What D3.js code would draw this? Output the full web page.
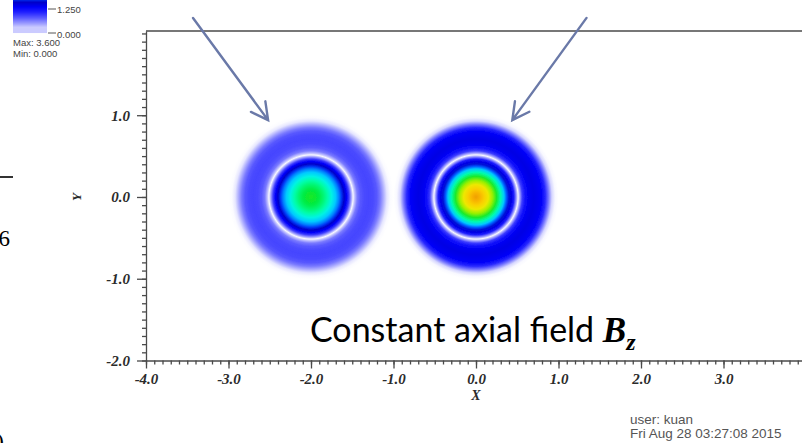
<!DOCTYPE html>
<html>
<head>
<meta charset="utf-8">
<script src="https://cdn.jsdelivr.net/npm/d3@7"></script>
<style>
  html, body { margin: 0; padding: 0; background: #fff; overflow: hidden; }
  svg { display: block; }
</style>
</head>
<body>
<svg id="chart" width="802" height="443"></svg>
<script>
// Radial sample positions (distance from each beam axis, same units as X/Y)
const radii = [0, 0.05, 0.10, 0.15, 0.20, 0.25, 0.30, 0.34, 0.37, 0.40, 0.43, 0.46, 0.49,
               0.51, 0.53, 0.56, 0.60, 0.65, 0.70, 0.75, 0.80, 0.84, 0.88, 0.92, 0.96, 1.00];
// Field magnitude along the radius for the beam centred at X = -2
const leftBeam  = [2.75, 2.72, 2.65, 2.55, 2.42, 2.27, 2.10, 1.92, 1.76, 1.60, 1.35, 0.95, 0.45,
                   0.05, 0.35, 0.65, 0.80, 0.88, 0.90, 0.88, 0.80, 0.65, 0.42, 0.17, 0.03, 0.00];
// Field magnitude along the radius for the beam centred at X = 0
const rightBeam = [3.60, 3.50, 3.35, 3.20, 3.00, 2.75, 2.40, 2.10, 1.85, 1.65, 1.45, 1.10, 0.50,
                   0.05, 0.45, 0.95, 1.25, 1.40, 1.45, 1.40, 1.30, 1.05, 0.65, 0.25, 0.05, 0.00];
const beamCentersX = [-2.0, 0.0];
const beamCenterY = 0.0;

// Axis ticks
const xMajorTicks = [-4, -3, -2, -1, 0, 1, 2, 3];
const yMajorTicks = [-2, -1, 0, 1];
const minorStep = 0.1;

// Pseudocolor table (value -> colour)
const colorValues = [0.0, 0.2, 0.5, 0.8, 1.1, 1.35, 1.6, 1.8, 2.0, 2.2, 2.45, 2.7, 2.95, 3.15, 3.4, 3.6];
const colorTable  = ["#ffffff", "#e2e2ff", "#9c9cff", "#5858ff", "#1e1eff", "#0000f8", "#0000c8",
                     "#0044ff", "#00a4ff", "#00eeff", "#00ff9c", "#00e834", "#80f000", "#e8f000",
                     "#ffc800", "#f0a000"];
const legendTicks = [0.0, 1.25];
const dataMax = 3.6, dataMin = 0.0;

// Annotation arrows (data coordinates)
const arrows = [
  { from: [-3.43, 2.19], to: [-2.52, 0.94] },
  { from: [ 1.34, 2.19], to: [ 0.44, 0.94] }
];

const svg = d3.select("#chart");
const W = 802, H = 443;

const x = d3.scaleLinear().domain([-4, 4]).range([146, 806]);
const y = d3.scaleLinear().domain([-2, 2.03]).range([360.5, 31]);
const color = d3.scaleLinear().domain(colorValues).range(colorTable)
  .interpolate(d3.interpolateRgb).clamp(true);

const defs = svg.append("defs");
defs.append("filter").attr("id", "soft")
  .append("feGaussianBlur").attr("stdDeviation", 0.7);

// ---- Pseudocolor field: each beam is a radial profile ----
const rMax = d3.max(radii);
const beams = [leftBeam, rightBeam];
const fieldG = svg.append("g").attr("filter", "url(#soft)");
beams.forEach((vals, i) => {
  const cx = x(beamCentersX[i]), cy = y(beamCenterY);
  const rPx = x(beamCentersX[i] + rMax) - cx;
  const grad = defs.append("radialGradient")
    .attr("id", "beam" + i)
    .attr("gradientUnits", "userSpaceOnUse")
    .attr("cx", cx).attr("cy", cy).attr("r", rPx)
    .attr("fx", cx).attr("fy", cy);
  grad.selectAll("stop").data(radii).join("stop")
    .attr("offset", d => d / rMax)
    .attr("stop-color", (d, k) => color(vals[k]));
  fieldG.append("circle")
    .attr("cx", cx).attr("cy", cy).attr("r", rPx)
    .attr("fill", "url(#beam" + i + ")");
});

// ---- Axes ----
const axisColor = "#4a4a4a";
const labelFont = "'Liberation Serif', 'DejaVu Serif', serif";
const fmt = d => d.toFixed(1);
const xMinor = d3.range(-40, 41).map(i => i * minorStep);
const yMinor = d3.range(-20, 21).map(i => i * minorStep);

function styleAxis(g) {
  g.selectAll("path, line").attr("stroke", axisColor).attr("stroke-width", 1.3);
  g.selectAll("text").attr("fill", "#2b2b2b")
    .style("font-family", labelFont).style("font-weight", "bold")
    .style("font-style", "italic").style("font-size", "15px");
}

const gx = svg.append("g").attr("transform", `translate(0,${y(-2)})`);
gx.call(d3.axisBottom(x).tickValues(xMinor).tickSize(4).tickSizeOuter(0).tickFormat(""));
gx.append("g").call(d3.axisBottom(x).tickValues(xMajorTicks).tickSize(8).tickSizeOuter(0)
  .tickPadding(6).tickFormat(fmt)).select(".domain").remove();
styleAxis(gx);
gx.selectAll("text").attr("dy", "0.6em");

const gy = svg.append("g").attr("transform", `translate(${x(-4)},0)`);
gy.call(d3.axisLeft(y).tickValues(yMinor).tickSize(4).tickSizeOuter(0).tickFormat(""));
gy.append("g").call(d3.axisLeft(y).tickValues(yMajorTicks).tickSize(9).tickSizeOuter(0)
  .tickPadding(7).tickFormat(fmt)).select(".domain").remove();
styleAxis(gy);

// frame top edge
svg.append("line")
  .attr("x1", x(-4)).attr("x2", W).attr("y1", y(2.03)).attr("y2", y(2.03))
  .attr("stroke", axisColor).attr("stroke-width", 1.5);

// axis titles
svg.append("text").attr("x", x(0)).attr("y", 400).attr("text-anchor", "middle")
  .attr("fill", "#2b2b2b").style("font-family", labelFont).style("font-weight", "bold")
  .style("font-style", "italic").style("font-size", "14px").text("X");
svg.append("text").attr("transform", `translate(81,${y(0)}) rotate(-90)`)
  .attr("text-anchor", "middle")
  .attr("fill", "#2b2b2b").style("font-family", labelFont).style("font-weight", "bold")
  .style("font-style", "italic").style("font-size", "13px").text("Y");

// ---- Legend colour bar ----
const legendFont = "'Liberation Sans', Arial, sans-serif";
const legendY = d3.scaleLinear().domain([0, 1.25]).range([33, 9]);
const legendG = svg.append("g");
legendG.selectAll("rect").data(d3.range(0, 33)).join("rect")
  .attr("x", 13).attr("width", 34).attr("y", d => d).attr("height", 1.05)
  .attr("fill", d => color(Math.max(0.3, legendY.invert(d + 0.5))));
legendG.selectAll("line.tk").data(legendTicks).join("line").attr("class", "tk")
  .attr("x1", 48).attr("x2", 56).attr("y1", d => legendY(d)).attr("y2", d => legendY(d))
  .attr("stroke", "#555").attr("stroke-width", 1);
legendG.selectAll("text.tk").data(legendTicks).join("text").attr("class", "tk")
  .attr("x", 57).attr("y", (d, i) => legendY(d) + (i === 0 ? 5 : 3.5))
  .attr("fill", "#444").style("font-family", legendFont).style("font-size", "9.5px")
  .text(d => d.toFixed(3));
legendG.append("text").attr("x", 13).attr("y", 46).attr("fill", "#444")
  .style("font-family", legendFont).style("font-size", "9.5px").text("Max: " + dataMax.toFixed(3));
legendG.append("text").attr("x", 13).attr("y", 57).attr("fill", "#444")
  .style("font-family", legendFont).style("font-size", "9.5px").text("Min: " + dataMin.toFixed(3));

// ---- Annotations ----
const arrowColor = "#6a79a8";
const headLen = 19, headAngle = 28 * Math.PI / 180;
arrows.forEach(a => {
  const x1 = x(a.from[0]), y1 = y(a.from[1]);
  const x2 = x(a.to[0]),   y2 = y(a.to[1]);
  const ang = Math.atan2(y1 - y2, x1 - x2);
  const path = d3.path();
  path.moveTo(x1, y1); path.lineTo(x2, y2);
  path.moveTo(x2 + headLen * Math.cos(ang - headAngle), y2 + headLen * Math.sin(ang - headAngle));
  path.lineTo(x2, y2);
  path.lineTo(x2 + headLen * Math.cos(ang + headAngle), y2 + headLen * Math.sin(ang + headAngle));
  svg.append("path").attr("d", path.toString()).attr("fill", "none")
    .attr("stroke", arrowColor).attr("stroke-width", 2.4)
    .attr("stroke-linecap", "round").attr("stroke-linejoin", "miter");
});

const caption = svg.append("text").attr("x", 310).attr("y", 342)
  .style("font-family", "Lato, 'Open Sans', sans-serif").style("font-size", "34px").attr("fill", "#000");
caption.append("tspan").text("Constant axial field ");
caption.append("tspan").style("font-family", "'Liberation Serif', 'DejaVu Serif', serif")
  .style("font-weight", "bold").style("font-style", "italic").style("font-size", "35px").text("B");
caption.append("tspan").attr("dy", 8).style("font-family", "'Liberation Serif', 'DejaVu Serif', serif")
  .style("font-weight", "bold").style("font-style", "italic").style("font-size", "24px").text("z");

// user / date stamp
const stampFont = "'Liberation Sans', Arial, sans-serif";
svg.append("text").attr("x", 630).attr("y", 424).attr("fill", "#555")
  .style("font-family", stampFont).style("font-size", "13.5px").text("user: kuan");
svg.append("text").attr("x", 630).attr("y", 438).attr("fill", "#555")
  .style("font-family", stampFont).style("font-size", "13.5px").text("Fri Aug 28 03:27:08 2015");

// fragments of neighbouring slide content at the left edge
svg.append("line").attr("x1", 0).attr("x2", 13).attr("y1", 177).attr("y2", 177)
  .attr("stroke", "#000").attr("stroke-width", 1.6);
svg.append("text").attr("x", 10).attr("y", 246).attr("text-anchor", "end")
  .style("font-family", "'Liberation Serif', serif").style("font-size", "23px").attr("fill", "#000").text("6");
svg.append("text").attr("x", 4).attr("y", 449).attr("text-anchor", "end")
  .style("font-family", "'Liberation Serif', serif").style("font-size", "23px").attr("fill", "#000").text(")");
</script>
</body>
</html>
